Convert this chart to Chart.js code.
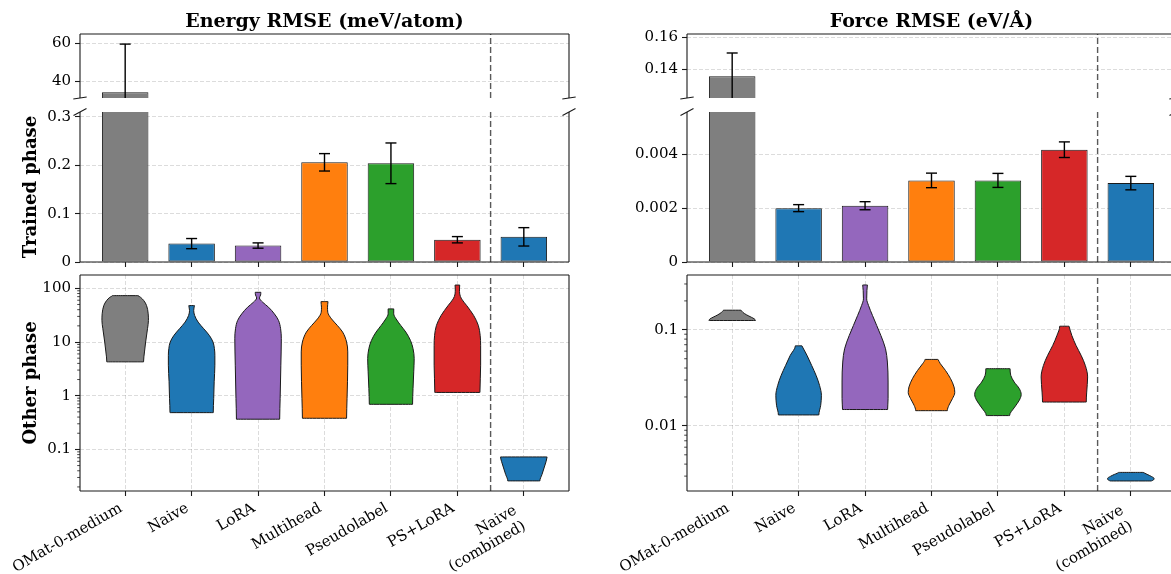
<!DOCTYPE html>
<html>
<head>
<meta charset="utf-8">
<title>RMSE by fine-tuning method</title>
<script src="https://cdn.jsdelivr.net/npm/chart.js@4.4.1/dist/chart.umd.min.js"></script>
<style>
  html, body { margin: 0; padding: 0; background: #fff; }
  body { position: relative; width: 1171px; height: 574px; overflow: hidden; }
  canvas { position: absolute; }
</style>
</head>
<body>
<canvas id="energyTop"></canvas>
<canvas id="energyBars"></canvas>
<canvas id="energyViolins"></canvas>
<canvas id="forceTop"></canvas>
<canvas id="forceBars"></canvas>
<canvas id="forceViolins"></canvas>
<script>
// methods, in plotting order
const methods = ['OMat-0-medium', 'Naive', 'LoRA', 'Multihead', 'Pseudolabel', 'PS+LoRA', ['Naive', '(combined)']];
const colors = ['#7f7f7f', '#1f77b4', '#9467bd', '#ff7f0e', '#2ca02c', '#d62728', '#1f77b4'];

// trained phase: mean RMSE and spread
const energyMean = [34.3, 0.038, 0.034, 0.206, 0.204, 0.046, 0.052];
const energyErr = [25.3, 0.0105, 0.0055, 0.018, 0.042, 0.0065, 0.019];
const forceMean = [0.1355, 0.00200, 0.00209, 0.00303, 0.00303, 0.00417, 0.00293];
const forceErr = [0.0146, 0.00013, 0.00015, 0.00027, 0.00026, 0.00029, 0.00025];

// axis ticks
const energyTopTicks = [40, 60];
const energyTopLabels = ['40', '60'];
const energyBarTicks = [0, 0.1, 0.2, 0.3];
const energyBarLabels = ['0', '0.1', '0.2', '0.3'];
const forceTopTicks = [0.14, 0.16];
const forceTopLabels = ['0.14', '0.16'];
const forceBarTicks = [0, 0.002, 0.004];
const forceBarLabels = ['0', '0.002', '0.004'];
const energyLogTicks = [0.1, 1, 10, 100];
const energyLogLabels = ['0.1', '1', '10', '100'];
const forceLogTicks = [0.01, 0.1];
const forceLogLabels = ['0.01', '0.1'];

// other phase: violin outlines, RMSE levels from top to bottom with relative KDE half-widths
const energyViolinLevels = [
  [73.1, 68.1, 59.1, 47.7, 33.5, 25.2, 17.7, 10.0, 6.53, 4.27],
  [47.7, 38.6, 31.2, 23.5, 17.7, 13.3, 10.0, 7.53, 5.66, 3.70, 1.82, 0.893, 0.484],
  [84.3, 75.2, 66.2, 55.0, 44.5, 33.5, 25.2, 17.7, 11.5, 3.70, 0.893, 0.365],
  [56.6, 44.5, 35.9, 27.0, 20.4, 15.3, 10.0, 6.53, 3.70, 0.893, 0.380],
  [41.4, 33.5, 27.0, 20.4, 15.3, 10.7, 7.53, 4.91, 2.78, 1.37, 0.691],
  [115, 97.2, 78.5, 63.5, 47.7, 31.2, 20.4, 13.3, 8.67, 3.70, 1.15],
  [0.0724, 0.060, 0.0451, 0.034, 0.0259]
];
const energyViolinWidths = [
  [0.55, 0.66, 0.8, 0.92, 0.99, 1.0, 0.96, 0.88, 0.83, 0.79],
  [0.12, 0.09, 0.13, 0.28, 0.52, 0.76, 0.92, 0.98, 1.0, 1.0, 0.97, 0.95, 0.93],
  [0.12, 0.11, 0.06, 0.2, 0.45, 0.7, 0.88, 0.97, 1.0, 0.98, 0.95, 0.93],
  [0.15, 0.13, 0.14, 0.3, 0.55, 0.78, 0.95, 1.0, 1.0, 0.97, 0.95],
  [0.12, 0.12, 0.22, 0.42, 0.64, 0.84, 0.95, 1.0, 0.98, 0.95, 0.93],
  [0.1, 0.09, 0.1, 0.18, 0.4, 0.7, 0.9, 0.98, 1.0, 1.0, 0.97],
  [1.0, 0.96, 0.87, 0.78, 0.69]
];
const forceViolinLevels = [
  [0.160, 0.1526, 0.1431, 0.1353, 0.130, 0.125],
  [0.0682, 0.0542, 0.0426, 0.0336, 0.0264, 0.0208, 0.0164, 0.0130],
  [0.293, 0.256, 0.210, 0.179, 0.141, 0.111, 0.0873, 0.0635, 0.0462, 0.0286, 0.0192, 0.0148],
  [0.0492, 0.0444, 0.0378, 0.0310, 0.0254, 0.0222, 0.0192, 0.0164, 0.0144],
  [0.0394, 0.0336, 0.0286, 0.0244, 0.0212, 0.0185, 0.0157, 0.0128],
  [0.109, 0.0873, 0.0688, 0.0542, 0.0426, 0.0323, 0.0225, 0.0177],
  [0.00328, 0.00313, 0.00298, 0.00284, 0.00273, 0.00267]
];
const forceViolinWidths = [
  [0.38, 0.45, 0.62, 0.82, 0.95, 1.0],
  [0.14, 0.36, 0.56, 0.75, 0.9, 0.98, 0.95, 0.87],
  [0.1, 0.08, 0.07, 0.15, 0.32, 0.5, 0.68, 0.88, 0.96, 0.99, 0.99, 0.97],
  [0.28, 0.38, 0.6, 0.82, 0.97, 1.0, 0.9, 0.75, 0.68],
  [0.52, 0.55, 0.7, 0.92, 1.0, 0.92, 0.72, 0.5],
  [0.2, 0.32, 0.5, 0.72, 0.9, 1.0, 0.96, 0.94],
  [0.53, 0.7, 0.88, 1.0, 0.97, 0.9]
];

const FONT = '"DejaVu Serif", "Liberation Serif", serif';
const INK = '#1a1a1a';
const GRID = 'rgba(110,110,110,0.3)';
const AXIS_W = 90;
const PAD_R = 12;
const HALF = 0.35;          // half of bar / violin width, in category units
const SPLIT = 5.5;          // separator before the combined run

// page boxes of the plotting areas
const cols = { energy: [80, 569], force: [687, 1176] };
const rows = { top: [34, 99], bars: [111, 263], violins: [274, 491] };

function place(canvas, col, row, padTop, padBottom) {
  const [l, r] = cols[col];
  const [t, b] = rows[row];
  canvas.width = AXIS_W + (r - l) + PAD_R;
  canvas.height = padTop + (b - t) + padBottom;
  canvas.style.left = (l - AXIS_W) + 'px';
  canvas.style.top = (t - padTop) + 'px';
}

// rotated labels hang from their right end; a trailing space nudges them
// along the baseline, two-line labels a bit further
function tickLabel(i) {
  const m = methods[i];
  return Array.isArray(m) ? m.map(s => s + '  ') : m + ' ';
}

// frame, broken-axis marks, panel title, minor log ticks
const panelFrame = {
  id: 'panelFrame',
  afterDatasetsDraw(chart, args, opts) {
    const { ctx, chartArea: a } = chart;
    ctx.save();
    ctx.strokeStyle = INK;
    ctx.lineWidth = 1.1;
    ctx.beginPath();
    const sides = opts.sides || 'tlrb';
    if (sides.includes('t')) { ctx.moveTo(a.left, a.top); ctx.lineTo(a.right, a.top); }
    if (sides.includes('b')) { ctx.moveTo(a.left, a.bottom); ctx.lineTo(a.right, a.bottom); }
    if (sides.includes('l')) { ctx.moveTo(a.left, a.top); ctx.lineTo(a.left, a.bottom); }
    if (sides.includes('r')) { ctx.moveTo(a.right, a.top); ctx.lineTo(a.right, a.bottom); }
    ctx.stroke();

    if (opts.cut) {
      const y = opts.cut === 'bottom' ? a.bottom : a.top;
      const dx = opts.cut === 'bottom' ? 6.7 : 6.5;
      const dy = opts.cut === 'bottom' ? 1.0 : 3.4;
      ctx.beginPath();
      [a.left, a.right].forEach(x => {
        ctx.moveTo(x - dx, y + dy);
        ctx.lineTo(x + dx, y - dy);
      });
      ctx.stroke();
    }

    if (opts.minor) {
      const s = chart.scales.y;
      ctx.lineWidth = 0.8;
      ctx.beginPath();
      for (let k = -4; k <= 3; k++) {
        for (let m = 2; m <= 9; m++) {
          const v = m * Math.pow(10, k);
          if (v <= s.min || v >= s.max) continue;
          const py = s.getPixelForValue(v);
          ctx.moveTo(a.left - 2.8, py);
          ctx.lineTo(a.left, py);
        }
      }
      ctx.stroke();
    }

    if (opts.title) {
      ctx.fillStyle = '#000';
      ctx.font = 'bold 19px ' + FONT;
      ctx.textAlign = 'center';
      ctx.textBaseline = 'alphabetic';
      ctx.fillText(opts.title, (a.left + a.right) / 2, a.top - 7);
    }
    ctx.restore();
  }
};

function yAxis(type, min, max, ticks, labels, title) {
  return {
    type, min, max,
    afterBuildTicks: s => { s.ticks = ticks.map(v => ({ value: v })); },
    afterFit: s => { s.width = AXIS_W; },
    ticks: {
      autoSkip: false,
      callback: (v, i) => labels[i],
      font: { family: FONT, size: 15 },
      color: '#000',
      padding: 4
    },
    grid: { color: GRID, lineWidth: 0.8, tickColor: INK, tickLength: 5, tickWidth: 1.1 },
    border: { display: false, dash: [4, 2] },
    title: title
      ? { display: true, text: title, color: '#000', font: { family: FONT, size: 18, weight: 'bold' }, padding: { top: 31, bottom: 0 } }
      : { display: false }
  };
}

function xAxis(mode) {
  const labelled = mode === 'labels';
  const height = labelled ? 83 : mode === 'marks' ? 10 : 0;
  return {
    type: 'linear', min: -0.68, max: 6.68, offset: false,
    display: mode !== 'none',
    afterBuildTicks: s => { s.ticks = methods.map((m, i) => ({ value: i })); },
    afterFit: s => { s.height = height; },
    ticks: {
      display: labelled,
      autoSkip: false,
      maxRotation: 30, minRotation: 30,
      callback: (v, i) => tickLabel(i),
      font: { family: FONT, size: 15 },
      color: '#000',
      padding: 1
    },
    grid: {
      offset: false,
      color: labelled ? GRID : 'rgba(0,0,0,0)',
      lineWidth: 0.8, tickColor: INK, tickLength: 5, tickWidth: 1.1
    },
    border: { display: false, dash: [4, 2] }
  };
}

function separator(min, max) {
  return {
    type: 'line',
    data: [{ x: SPLIT, y: min }, { x: SPLIT, y: max }],
    borderColor: 'rgba(60,60,60,0.85)', borderWidth: 1.4, borderDash: [6, 3],
    pointRadius: 0, clip: 0, order: 1
  };
}

function errorPoints(mean, err) {
  const pts = [];
  mean.forEach((m, i) => {
    pts.push({ x: i, y: m - err[i] }, { x: i, y: m + err[i] }, { x: i, y: null });
  });
  return pts;
}

function violinOutline(i, levels, widths) {
  const right = levels.map((v, k) => ({ x: i + widths[k] * HALF, y: v }));
  const left = levels.map((v, k) => ({ x: i - widths[k] * HALF, y: v })).reverse();
  return right.concat(left, [right[0]]);
}

const baseOptions = {
  responsive: false,
  animation: false,
  events: [],
  plugins: { legend: { display: false }, tooltip: { enabled: false } }
};

function barPanel(id, col, part, mean, err, min, max, ticks, labels, extra) {
  const canvas = document.getElementById(id);
  const isTop = part === 'top';
  const padTop = isTop ? 34 : 12;
  const padBottom = isTop ? 12 : 2;
  place(canvas, col, part, padTop, padBottom + (isTop ? 0 : 10));
  new Chart(canvas, {
    type: 'bar',
    data: {
      datasets: [
        {
          type: 'line',
          data: errorPoints(mean, err),
          borderColor: '#000', borderWidth: 1.4,
          pointStyle: 'line', pointRadius: 5.5, pointBorderWidth: 1.4,
          pointBorderColor: '#000', pointBackgroundColor: '#000',
          spanGaps: false, clip: 0, order: 0
        },
        separator(min, max),
        {
          type: 'bar',
          data: mean.map((v, i) => ({ x: i, y: v })),
          backgroundColor: colors, borderColor: INK, borderWidth: 1, borderSkipped: false,
          barPercentage: 0.7, categoryPercentage: 1, base: 0, clip: 0, order: 2
        }
      ]
    },
    options: Object.assign({}, baseOptions, {
      layout: { padding: { left: 0, right: PAD_R, top: padTop, bottom: padBottom } },
      scales: {
        x: xAxis(isTop ? 'none' : 'marks'),
        y: yAxis('linear', min, max, ticks, labels, extra.yTitle)
      },
      plugins: Object.assign({}, baseOptions.plugins, {
        panelFrame: { sides: isTop ? 'tlr' : 'lrb', cut: isTop ? 'bottom' : 'top', title: extra.title }
      })
    }),
    plugins: [panelFrame]
  });
}

function violinPanel(id, col, levels, widths, min, max, ticks, labels, yTitle) {
  const canvas = document.getElementById(id);
  place(canvas, col, 'violins', 12, 83);
  const datasets = levels.map((lv, i) => ({
    type: 'line',
    data: violinOutline(i, lv, widths[i]),
    indexAxis: 'y',
    cubicInterpolationMode: 'monotone',
    fill: 'shape',
    backgroundColor: colors[i], borderColor: INK, borderWidth: 1,
    pointRadius: 0, clip: 0, order: 2
  }));
  datasets.push(separator(min, max));
  new Chart(canvas, {
    type: 'line',
    data: { datasets },
    options: Object.assign({}, baseOptions, {
      layout: { padding: { left: 0, right: PAD_R, top: 12, bottom: 0 } },
      scales: {
        x: xAxis('labels'),
        y: yAxis('logarithmic', min, max, ticks, labels, yTitle)
      },
      plugins: Object.assign({}, baseOptions.plugins, {
        panelFrame: { sides: 'tlrb', minor: true }
      })
    }),
    plugins: [panelFrame]
  });
}

barPanel('energyTop', 'energy', 'top', energyMean, energyErr, 31.3, 64.9,
  energyTopTicks, energyTopLabels, { title: 'Energy RMSE (meV/atom)' });
barPanel('energyBars', 'energy', 'bars', energyMean, energyErr, 0, 0.31,
  energyBarTicks, energyBarLabels, { yTitle: 'Trained phase' });
violinPanel('energyViolins', 'energy', energyViolinLevels, energyViolinWidths, 0.0168, 177,
  energyLogTicks, energyLogLabels, 'Other phase');

barPanel('forceTop', 'force', 'top', forceMean, forceErr, 0.1219, 0.162,
  forceTopTicks, forceTopLabels, { title: 'Force RMSE (eV/Å)' });
barPanel('forceBars', 'force', 'bars', forceMean, forceErr, 0, 0.00557,
  forceBarTicks, forceBarLabels, {});
violinPanel('forceViolins', 'force', forceViolinLevels, forceViolinWidths, 0.0021, 0.372,
  forceLogTicks, forceLogLabels, null);
</script>
</body>
</html>
